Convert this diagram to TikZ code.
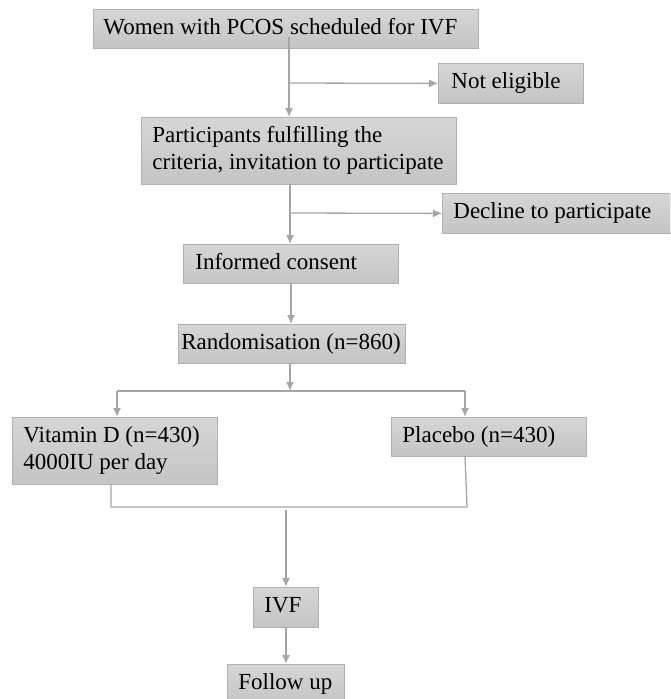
\documentclass[tikz,border=0pt]{standalone}
\usepackage{fontspec}
\setmainfont{Liberation Serif}
\usetikzlibrary{arrows.meta}
\definecolor{boxtop}{HTML}{D6D6D6}
\definecolor{boxbot}{HTML}{C4C4C4}
\definecolor{boxline}{HTML}{B0B0B0}
\definecolor{conn}{HTML}{A6A6A6}
% width, left padding, text
\newcommand{\bx}[3]{\makebox[#1][l]{\hspace{#2}\begin{tabular}{@{}l@{}}#3\end{tabular}}}
\begin{document}
\begin{tikzpicture}[x=1pt,y=-1pt,
  box/.style={draw=boxline, line width=0.8pt, top color=boxtop, bottom color=boxbot,
    anchor=north west, inner xsep=0pt, inner ysep=0pt,
    font=\fontsize{23}{27}\selectfont},
  line/.style={draw=conn, line width=1.3pt},
  arr/.style={line, -{Latex[length=9pt,width=8pt]}}]
\useasboundingbox (0,0) rectangle (670,699);
\clip (0,0) rectangle (670,699);
\node[box, minimum height=39pt] (b1) at (93,9) {\bx{385pt}{10pt}{Women with PCOS scheduled for IVF}};
\node[box, minimum height=40pt] (ne) at (438,63) {\bx{145pt}{13pt}{Not eligible}};
\node[box, minimum height=67pt] (b2) at (141,117) {\bx{315pt}{11pt}{Participants fulfilling the\\criteria, invitation to participate}};
\node[box, minimum height=40pt] (dec) at (442,193) {\bx{228pt}{11pt}{Decline to participate}};
\node[box, minimum height=39pt] (ic) at (183,244) {\bx{215pt}{12pt}{Informed consent}};
\node[box, minimum height=39pt] (rnd) at (178,324) {\bx{227pt}{3pt}{Randomisation (n=860)}};
\node[box, minimum height=67pt] (vd) at (12,417) {\bx{205pt}{11pt}{Vitamin D (n=430)\\4000IU per day}};
\node[box, minimum height=39pt] (pl) at (391,417) {\bx{195pt}{11pt}{Placebo (n=430)}};
\node[box, minimum height=40pt] (ivf) at (253,587) {\bx{65pt}{11pt}{IVF}};
\node[box, minimum height=40pt] (fu) at (227,664) {\bx{117pt}{11pt}{Follow up}};
% connectors
\coordinate (s1) at (289,37);
\coordinate (j1) at (289,83);
\draw[arr] (s1) -- (s1 |- b2.north);
\draw[arr] (j1) -- (ne.west);
\coordinate (s2) at (290,184);
\coordinate (j2) at (290,213);
\draw[arr] (s2) -- (s2 |- ic.north);
\draw[arr] (j2) -- (dec.west);
\coordinate (s3) at (291,283);
\draw[arr] (s3) -- (s3 |- rnd.north);
\coordinate (s4) at (290,363);
\coordinate (sp) at (290,391);
\draw[arr] (s4) -- (sp);
\coordinate (sl) at (117,391);
\coordinate (sr) at (465,391);
\draw[line] (sl) -- (sr);
\draw[arr] (sl) -- (sl |- vd.north);
\draw[arr] (sr) -- (sr |- pl.north);
\coordinate (ml) at (111,507);
\coordinate (mr) at (467,507);
\draw[line] (ml |- vd.south) -- (ml) -- (mr) -- (465,456);
\coordinate (s5) at (286,510);
\draw[arr] (s5) -- (s5 |- ivf.north);
\coordinate (s6) at (286,627);
\draw[arr] (s6) -- (s6 |- fu.north);
\end{tikzpicture}
\end{document}
